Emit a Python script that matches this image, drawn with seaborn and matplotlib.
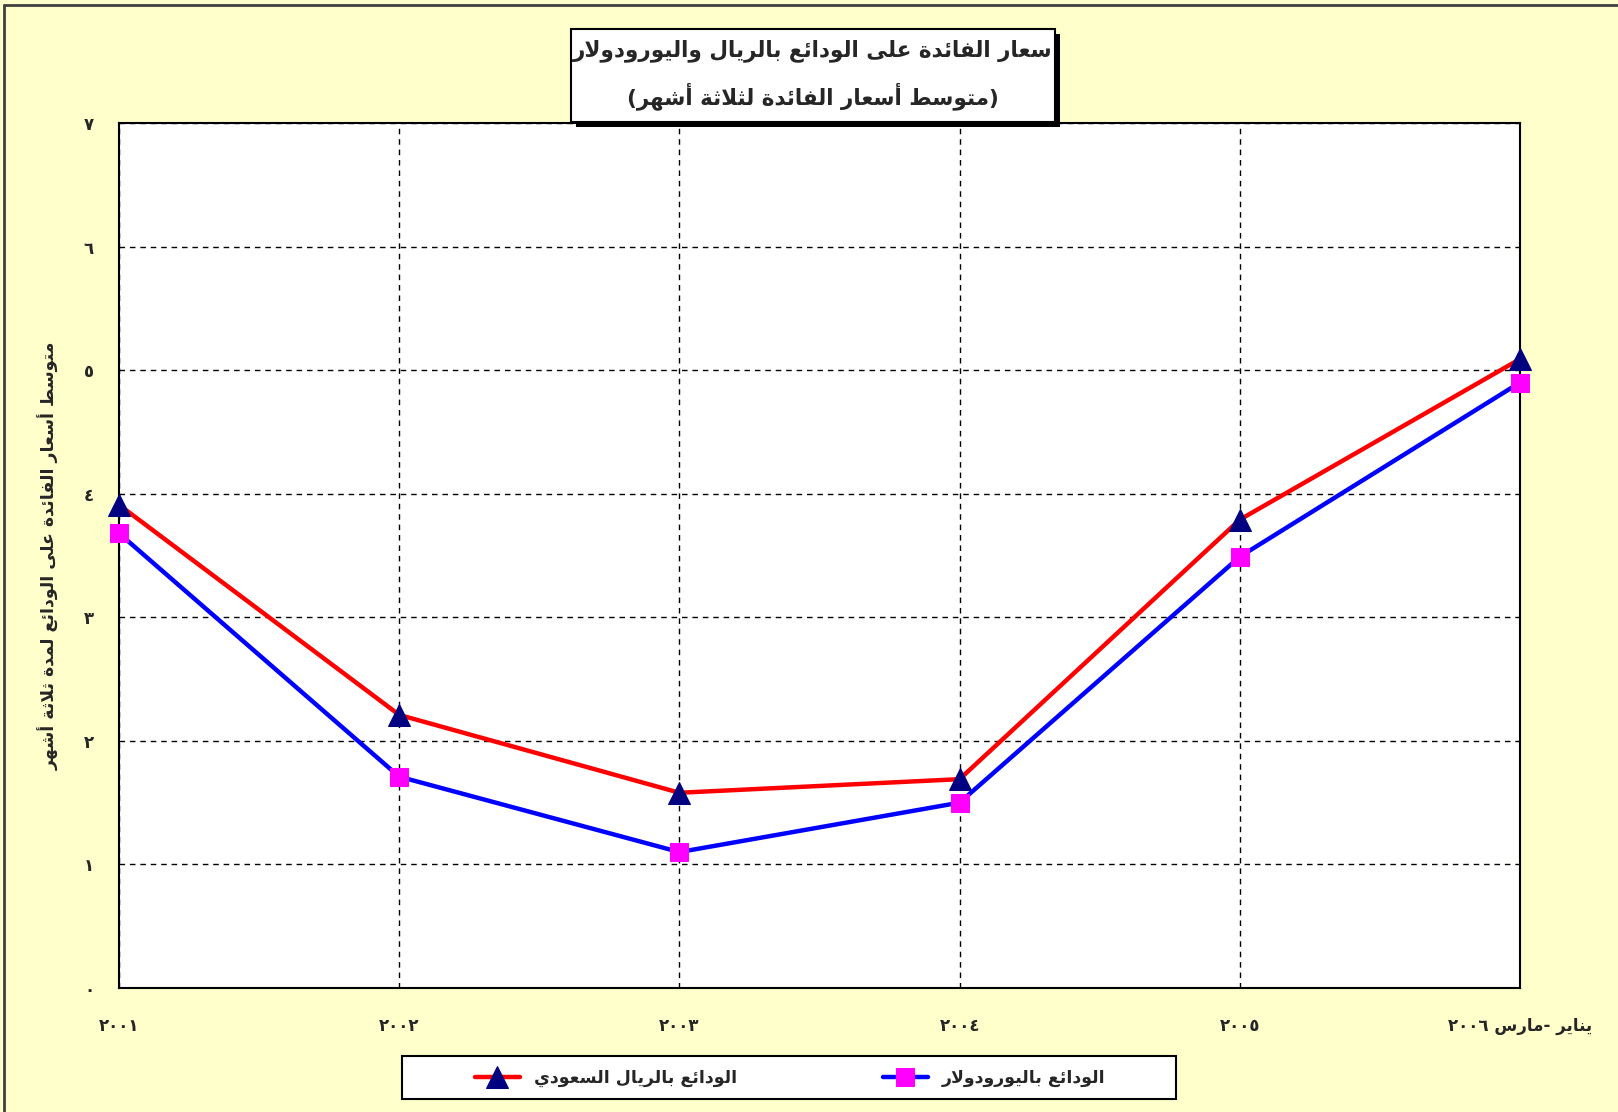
import re
import numpy as np
import pandas as pd
import matplotlib
matplotlib.use("Agg")
import matplotlib.pyplot as plt
from matplotlib.patches import Rectangle
from matplotlib.lines import Line2D
import seaborn as sns

# ---- data ----
years = ["٢٠٠١", "٢٠٠٢", "٢٠٠٣", "٢٠٠٤", "٢٠٠٥", "يناير -مارس ٢٠٠٦"]
sar_rate = [3.91, 2.21, 1.58, 1.69, 3.79, 5.09]
euro_rate = [3.68, 1.71, 1.10, 1.50, 3.49, 4.90]
y_ticks = [0, 1, 2, 3, 4, 5, 6, 7]
y_tick_labels = ["٠", "١", "٢", "٣", "٤", "٥", "٦", "٧"]
sar_name = "الودائع بالريال السعودي"
euro_name = "الودائع باليورودولار"
title_1 = "سعار الفائدة على الودائع بالريال واليورودولار"
title_2 = "(متوسط أسعار الفائدة لثلاثة أشهر)"
y_name = "متوسط أسعار الفائدة على الودائع لمدة ثلاثة أشهر"

# ---- simple arabic shaping (matplotlib has no bidi / shaping) ----
FOUR = {'ب': 0xFE8F, 'ت': 0xFE95, 'ث': 0xFE99, 'ج': 0xFE9D, 'ح': 0xFEA1, 'خ': 0xFEA5,
        'س': 0xFEB1, 'ش': 0xFEB5, 'ص': 0xFEB9, 'ض': 0xFEBD, 'ط': 0xFEC1, 'ظ': 0xFEC5,
        'ع': 0xFEC9, 'غ': 0xFECD, 'ف': 0xFED1, 'ق': 0xFED5, 'ك': 0xFED9, 'ل': 0xFEDD,
        'م': 0xFEE1, 'ن': 0xFEE5, 'ه': 0xFEE9, 'ي': 0xFEF1, 'ئ': 0xFE89}
TWO = {'آ': 0xFE81, 'أ': 0xFE83, 'ؤ': 0xFE85, 'إ': 0xFE87, 'ا': 0xFE8D, 'ة': 0xFE93,
       'د': 0xFEA9, 'ذ': 0xFEAB, 'ر': 0xFEAD, 'ز': 0xFEAF, 'و': 0xFEED, 'ى': 0xFEEF}
LAMALEF = {'آ': 0xFEF5, 'أ': 0xFEF7, 'إ': 0xFEF9, 'ا': 0xFEFB}


def shape(txt):
    toks = []
    i = 0
    while i < len(txt):
        c = txt[i]
        if c == 'ل' and i + 1 < len(txt) and txt[i + 1] in LAMALEF:
            toks.append(('LA', LAMALEF[txt[i + 1]]))
            i += 2
            continue
        toks.append((c, None))
        i += 1

    def joins(t):
        return t[0] == 'LA' or t[0] in FOUR or t[0] in TWO

    out = []
    for k, (c, lig) in enumerate(toks):
        prev = k > 0 and toks[k - 1][0] in FOUR
        if c == 'LA':
            out.append(chr(lig + (1 if prev else 0)))
        elif c in FOUR:
            nxt = k + 1 < len(toks) and joins(toks[k + 1])
            base = FOUR[c]
            off = 3 if (prev and nxt) else 1 if prev else 2 if nxt else 0
            out.append(chr(base + off))
        elif c in TWO:
            out.append(chr(TWO[c] + (1 if prev else 0)))
        elif c == 'ء':
            out.append(chr(0xFE80))
        else:
            out.append(c)
    s = ''.join(out)[::-1]
    s = re.sub(r'[0-9\u0660-\u0669]+', lambda m: m.group()[::-1], s)
    return s.translate(str.maketrans('()', ')('))


sns.set_theme(style="white")
plt.rcParams['font.family'] = ['DejaVu Sans']
plt.rcParams['font.weight'] = 'bold'

W, H = 1618, 1112
bg = '#FFFFCC'
fig = plt.figure(figsize=(W / 100, H / 100), dpi=100, facecolor=bg)
ax = fig.add_axes([119 / W, 1 - 988 / H, 1401 / W, 865 / H])
ax.set_facecolor('white')

df = pd.DataFrame({"x": np.arange(len(years)), "sar": sar_rate, "euro": euro_rate})

sns.lineplot(data=df, x="x", y="sar", color='#FF0000', linewidth=3.2, marker='^',
             markersize=16, markerfacecolor='#000080', markeredgecolor='#000080',
             label=shape(sar_name), ax=ax, zorder=5, clip_on=False, legend=False)
sns.lineplot(data=df, x="x", y="euro", color='#0000FF', linewidth=3.2, marker='s',
             markersize=13, markerfacecolor='#FF00FF', markeredgecolor='#FF00FF',
             label=shape(euro_name), ax=ax, zorder=5, clip_on=False, legend=False)

ax.set_xlim(0, 5)
ax.set_ylim(0, 7)
ax.set_xticks(df["x"])
ax.set_xticklabels([shape(t) for t in years], fontsize=12, fontweight='bold')
ax.set_yticks(y_ticks)
ax.set_yticklabels(y_tick_labels, fontsize=12, fontweight='bold')
ax.tick_params(axis='x', length=0, pad=21)
ax.tick_params(axis='y', length=0, pad=18)
ax.grid(True, color='black', linestyle=(0, (4, 3.5)), linewidth=1)
for sp in ax.spines.values():
    sp.set_color('black')
    sp.set_linewidth(1.5)

ax.set_xlabel("")
ax.set_ylabel(shape(y_name), fontsize=12.5, fontweight='bold')
ax.yaxis.set_label_coords(-(119 - 60) / 1401, 0.5)

# legend box
fig.add_artist(Rectangle((402 / W, 1 - 1099 / H), 774 / W, 43 / H, transform=fig.transFigure,
                         facecolor='white', edgecolor='black', linewidth=1.5, zorder=1))
handles, labels = ax.get_legend_handles_labels()
leg = fig.legend(handles, labels, loc='center', bbox_to_anchor=(790 / W, 1 - 1078 / H),
                 ncol=2, frameon=False, prop={'size': 12.5, 'weight': 'bold'},
                 handlelength=2.6, columnspacing=8.4)
leg.set_zorder(10)

# title box with shadow
fig.add_artist(Rectangle((576 / W, 1 - 127 / H), 484 / W, 93 / H,
                         transform=fig.transFigure, facecolor='black', edgecolor='none'))
fig.add_artist(Rectangle((571 / W, 1 - 122 / H), 484 / W, 93 / H,
                         transform=fig.transFigure, facecolor='white', edgecolor='black',
                         linewidth=1.5))
fig.text(813 / W, 1 - 51 / H, shape(title_1), ha='center', va='center',
         fontsize=15.5, fontweight='bold')
fig.text(813 / W, 1 - 96 / H, shape(title_2), ha='center', va='center',
         fontsize=15.5, fontweight='bold')

# outer border
fig.add_artist(Line2D([4 / W, 4 / W], [0, 1 - 5 / H], color='#404040', linewidth=2,
                      transform=fig.transFigure))
fig.add_artist(Line2D([4 / W, 1], [1 - 5 / H, 1 - 5 / H], color='#404040',
                      linewidth=2, transform=fig.transFigure))

fig.savefig("out.png", dpi=100, facecolor=bg)
